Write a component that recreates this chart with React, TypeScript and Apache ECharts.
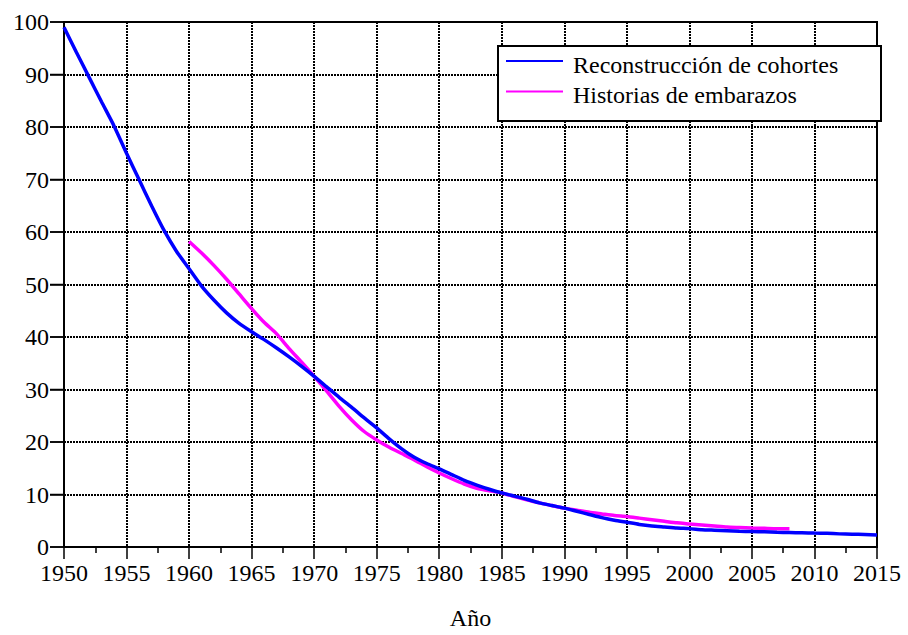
import React, { useEffect, useRef } from "react";
import * as echarts from "echarts";

const cohortStartYear = 1950;
const cohortValues = [
  99, 94.2, 89.5, 84.8, 80.2, 75, 70, 65, 60.3, 56.3,
  53, 49.7, 47, 44.6, 42.6, 41, 39.5, 37.9, 36.2, 34.4,
  32.5, 30.5, 28.5, 26.6, 24.6, 22.7, 20.6, 18.7, 17.1, 15.9,
  14.9, 13.8, 12.7, 11.8, 11, 10.3, 9.7, 9.1, 8.4, 7.9,
  7.4, 6.8, 6.2, 5.6, 5.1, 4.7, 4.3, 4.0, 3.8, 3.6,
  3.5, 3.3, 3.2, 3.1, 3.0, 2.95, 2.9, 2.8, 2.75, 2.7,
  2.65, 2.6, 2.5, 2.45, 2.4, 2.3,
];

const pregStartYear = 1960;
const pregValues = [
  58.2, 56, 53.6, 51, 48.2, 45.4, 42.8, 40.6, 37.8, 35.2,
  32.5, 29.7, 26.8, 24.2, 22, 20.4, 19, 17.8, 16.6, 15.3,
  14.1, 13, 12, 11.2, 10.7, 10.3, 9.6, 9, 8.4, 7.9,
  7.4, 7, 6.6, 6.3, 6, 5.8, 5.5, 5.2, 4.9, 4.6,
  4.4, 4.2, 4.0, 3.8, 3.7, 3.6, 3.55, 3.5, 3.5,
];

const xTickLabels = [1950, 1955, 1960, 1965, 1970, 1975, 1980, 1985, 1990, 1995, 2000, 2005, 2010, 2015];
const yTickLabels = [0, 10, 20, 30, 40, 50, 60, 70, 80, 90, 100];

const seriesNames = ["Reconstrucción de cohortes", "Historias de embarazos"];
const seriesColors = ["#0000ff", "#ff00ff"];
const xTitle = "Año";

const FAMILY = "Liberation Serif";

export default function App() {
  const ref = useRef<HTMLDivElement>(null);
  useEffect(() => {
    if (!ref.current) return;
    const chart = echarts.init(ref.current, null, { renderer: "svg" });
    const cohort = cohortValues.map((v, i) => [cohortStartYear + i, v]);
    const preg = pregValues.map((v, i) => [pregStartYear + i, v]);
    chart.setOption({
      animation: false,
      grid: {
        left: 64, right: 31, top: 22, bottom: 73,
        show: true, borderColor: "#000", borderWidth: 2, backgroundColor: "transparent",
      },
      xAxis: [{
        type: "value", min: 1950, max: 2015, interval: 5,
        name: xTitle, nameLocation: "middle", nameGap: 59,
        nameTextStyle: { fontFamily: FAMILY, fontSize: 24, color: "#000" },
        axisLine: { show: true, lineStyle: { color: "#000", width: 2 } },
        axisTick: { show: true, inside: false, length: 12, lineStyle: { color: "#000", width: 1.5 } },
        minorTick: { show: true, splitNumber: 2, length: 6, lineStyle: { color: "#000", width: 1.5 } },
        axisLabel: { show: false },
        splitLine: { show: true, lineStyle: { color: "#000", type: [2, 1], width: 2 } },
      }],
      yAxis: [{
        type: "value", min: 0, max: 100, interval: 10,
        axisLine: { show: true, lineStyle: { color: "#000", width: 2 } },
        axisTick: { show: true, inside: false, length: 14, lineStyle: { color: "#000", width: 1.5 } },
        axisLabel: { show: false },
        splitLine: { show: true, lineStyle: { color: "#000", type: [2, 1], width: 2 } },
      }],
      series: [
        {
          name: seriesNames[0], type: "line", data: cohort, showSymbol: false, smooth: 0.2,
          lineStyle: { color: seriesColors[0], width: 3.5 }, z: 3,
        },
        {
          name: seriesNames[1], type: "line", data: preg, showSymbol: false, smooth: 0.2,
          lineStyle: { color: seriesColors[1], width: 3.5 }, z: 2,
        },
      ],
    });

    const graphics: any[] = [];
    // tick labels and y ticks placed through the chart's own scales
    xTickLabels.forEach((year) => {
      const p = chart.convertToPixel({ gridIndex: 0 }, [year, 0]) as number[];
      graphics.push({
        type: "text", x: p[0], y: p[1] + 14, z: 20, silent: true,
        style: { text: String(year), fontFamily: FAMILY, fontSize: 24, fill: "#000", align: "center", verticalAlign: "top" },
      });
    });
    yTickLabels.forEach((val) => {
      const p = chart.convertToPixel({ gridIndex: 0 }, [1950, val]) as number[];
      graphics.push({
        type: "text", x: p[0] - 15, y: p[1], z: 20, silent: true,
        style: { text: String(val), fontFamily: FAMILY, fontSize: 24, fill: "#000", align: "right", verticalAlign: "middle" },
      });
      graphics.push({
        type: "line", z: 20, silent: true,
        shape: { x1: p[0] - 14, y1: p[1], x2: p[0], y2: p[1] },
        style: { stroke: "#000", lineWidth: 1.5 },
      });
    });
    // legend
    graphics.push(
      {
        type: "rect", left: 497, top: 45, z: 10,
        shape: { width: 383, height: 75 },
        style: { fill: "#fff", stroke: "#000", lineWidth: 2 },
      },
      {
        type: "line", z: 11,
        shape: { x1: 506, y1: 61, x2: 563, y2: 61 },
        style: { stroke: seriesColors[0], lineWidth: 2 },
      },
      {
        type: "line", z: 11,
        shape: { x1: 506, y1: 91.5, x2: 563, y2: 91.5 },
        style: { stroke: seriesColors[1], lineWidth: 2 },
      },
      {
        type: "text", x: 573, y: 65, z: 11,
        style: { text: seriesNames[0], fontFamily: FAMILY, fontSize: 24, fill: "#000", verticalAlign: "middle" },
      },
      {
        type: "text", x: 573, y: 95, z: 11,
        style: { text: seriesNames[1], fontFamily: FAMILY, fontSize: 24, fill: "#000", verticalAlign: "middle" },
      },
    );
    chart.setOption({ graphic: graphics });
    return () => chart.dispose();
  }, []);
  return <div ref={ref} style={{ width: 908, height: 635, position: "absolute", left: 0, top: 0, background: "#fff" }} />;
}
